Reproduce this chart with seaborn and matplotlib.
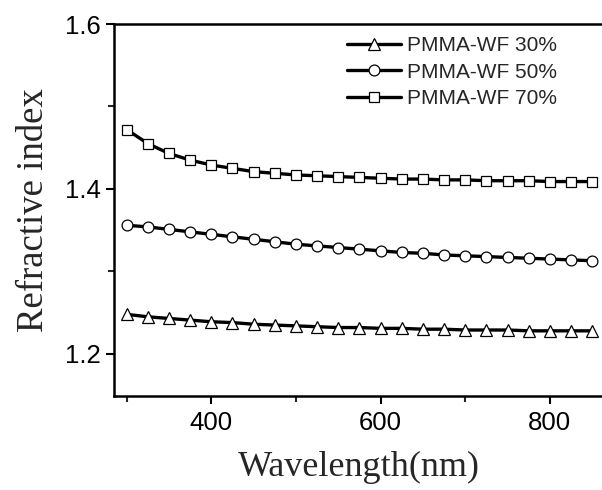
import matplotlib
matplotlib.use("Agg")
import matplotlib.pyplot as plt
import seaborn as sns
import pandas as pd
from matplotlib.ticker import MultipleLocator

wavelength = [300, 325, 350, 375, 400, 425, 450, 475, 500, 525, 550, 575,
              600, 625, 650, 675, 700, 725, 750, 775, 800, 825, 850]
n_30 = [1.248, 1.245, 1.243, 1.241, 1.239, 1.238, 1.236, 1.235, 1.234, 1.233,
        1.232, 1.232, 1.231, 1.231, 1.230, 1.230, 1.229, 1.229, 1.229, 1.228,
        1.228, 1.228, 1.228]
n_50 = [1.356, 1.354, 1.351, 1.348, 1.345, 1.342, 1.339, 1.336, 1.333, 1.331,
        1.329, 1.327, 1.325, 1.323, 1.322, 1.320, 1.319, 1.318, 1.317, 1.316,
        1.315, 1.314, 1.313]
n_70 = [1.472, 1.455, 1.443, 1.435, 1.429, 1.425, 1.421, 1.419, 1.417, 1.416,
        1.415, 1.414, 1.413, 1.412, 1.412, 1.411, 1.411, 1.410, 1.410, 1.410,
        1.409, 1.409, 1.409]
labels = ["PMMA-WF 30%", "PMMA-WF 50%", "PMMA-WF 70%"]
markers = ["^", "o", "s"]

sns.set_style("ticks")
plt.rcParams['font.family'] = ['Liberation Sans', 'DejaVu Sans']

fig = plt.figure(figsize=(6.02, 4.90), dpi=100)
ax = fig.add_axes([114/602, 94/490, 490/602, 372/490])

for vals, lab, mk in zip([n_30, n_50, n_70], labels, markers):
    df = pd.DataFrame({"Wavelength": wavelength, "n": vals})
    sns.lineplot(data=df, x="Wavelength", y="n", ax=ax, color="black",
                 linewidth=2.4, marker=mk, markersize=8.5 if mk == "^" else 7.8,
                 markerfacecolor="white", markeredgecolor="black",
                 markeredgewidth=0.9, label=lab)

ax.set_xlim(285, 864)
ax.set_ylim(1.149, 1.6)
ax.xaxis.set_major_locator(MultipleLocator(200))
ax.xaxis.set_minor_locator(MultipleLocator(100))
ax.yaxis.set_major_locator(MultipleLocator(0.2))
ax.yaxis.set_minor_locator(MultipleLocator(0.1))
ax.tick_params(which="major", direction="out", length=6, width=1.5,
               labelsize=18.5, colors="black")
ax.tick_params(axis="x", which="major", pad=5)
ax.tick_params(axis="y", which="major", pad=3.5)
ax.tick_params(which="minor", direction="out", length=4, width=1.5)
ax.set_xticks([400, 600, 800])
ax.set_yticks([1.2, 1.4, 1.6])
ax.set_yticklabels(["1.2", "1.4", "1.6"])

for s in ax.spines.values():
    s.set_linewidth(1.8)
    s.set_color("black")
    s.set_visible(True)

ax.set_xlabel("Wavelength(nm)", family="Liberation Serif", fontsize=26, labelpad=11)
ax.set_ylabel("Refractive index", family="Liberation Serif", fontsize=26.5, labelpad=10)

leg = ax.legend(loc="upper left", bbox_to_anchor=(347/602, 1 - 36/490),
                bbox_transform=fig.transFigure, frameon=False, fontsize=15,
                handlelength=2.6, handletextpad=0.3, labelspacing=0.36,
                borderpad=0, borderaxespad=0)

fig.savefig("out.png", dpi=100)
